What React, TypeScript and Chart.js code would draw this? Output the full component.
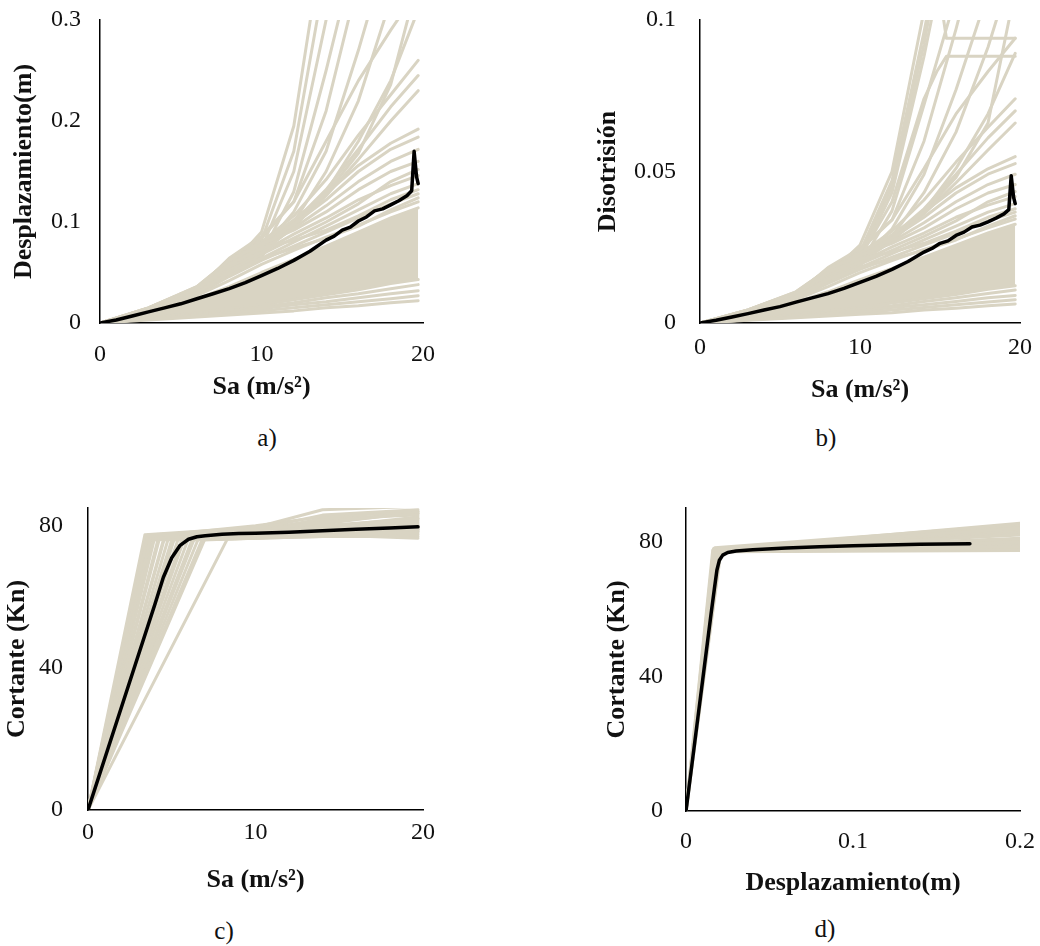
import React, { useEffect, useRef } from "react";
import { Chart, registerables } from "chart.js";

Chart.register(...registerables);

const BEIGE = "#D9D4C3";
const BLACK = "#000000";
const FONT = "'Liberation Serif', 'Times New Roman', serif";
const TICK_SIZE = 24;
const TITLE_SIZE = 26;

// ---------------- a) Desplazamiento(m) vs Sa ----------------
const saGrid = [0, 3, 6, 8, 10, 12, 14, 16, 18, 19.7];

const dispLow1 = [0, 0.003, 0.006, 0.008, 0.010, 0.012, 0.015, 0.017, 0.020, 0.022];
const dispLow2 = [0, 0.004, 0.007, 0.010, 0.012, 0.015, 0.018, 0.021, 0.024, 0.027];
const dispLow3 = [0, 0.004, 0.008, 0.011, 0.014, 0.018, 0.021, 0.025, 0.029, 0.032];
const dispLow4 = [0, 0.005, 0.009, 0.012, 0.016, 0.020, 0.025, 0.029, 0.034, 0.038];
const dispCoreLow = [0, 0.005, 0.010, 0.014, 0.018, 0.023, 0.028, 0.033, 0.039, 0.043];
const dispCoreHigh = [0, 0.011, 0.024, 0.036, 0.050, 0.063, 0.076, 0.090, 0.104, 0.114];
const dispMid1 = [0, 0.012, 0.027, 0.042, 0.058, 0.072, 0.085, 0.097, 0.110, 0.120];
const dispMid2 = [0, 0.013, 0.030, 0.050, 0.064, 0.074, 0.084, 0.096, 0.112, 0.124];
const dispMid3 = [0, 0.014, 0.033, 0.058, 0.074, 0.082, 0.092, 0.106, 0.122, 0.132];
const dispMid4 = [0, 0.013, 0.029, 0.048, 0.064, 0.080, 0.096, 0.112, 0.128, 0.138];
const dispMid5 = [0, 0.014, 0.032, 0.056, 0.070, 0.088, 0.104, 0.122, 0.136, 0.146];
const dispMid6 = [0, 0.013, 0.031, 0.052, 0.068, 0.084, 0.100, 0.118, 0.140, 0.152];
const dispMid7 = [0, 0.015, 0.035, 0.062, 0.078, 0.092, 0.110, 0.132, 0.150, 0.160];
const dispMid8 = [0, 0.014, 0.033, 0.056, 0.072, 0.094, 0.116, 0.140, 0.160, 0.172];
const dispMid9 = [0, 0.014, 0.034, 0.058, 0.076, 0.098, 0.122, 0.150, 0.172, 0.184];
const dispMid10 = [0, 0.015, 0.036, 0.062, 0.080, 0.102, 0.128, 0.156, 0.178, 0.192];
const dispMid11 = [0, 0.012, 0.028, 0.046, 0.062, 0.076, 0.090, 0.104, 0.118, 0.128];
const dispHigh1 = [0, 0.014, 0.033, 0.056, 0.074, 0.096, 0.126, 0.162, 0.200, 0.230];
const dispHigh2 = [0, 0.015, 0.035, 0.060, 0.078, 0.100, 0.132, 0.172, 0.214, 0.245];
const dispHigh3 = [0, 0.015, 0.036, 0.062, 0.080, 0.106, 0.142, 0.186, 0.226, 0.260];
const dispHigh4 = [0, 0.014, 0.034, 0.058, 0.076, 0.098, 0.128, 0.168, 0.236, 0.340];
const dispSteep1 = [0, 0.013, 0.030, 0.055, 0.090, 0.195, 0.400, 0.600, 0.800, 0.950];
const dispSteep2 = [0, 0.014, 0.032, 0.060, 0.082, 0.170, 0.350, 0.550, 0.750, 0.900];
const dispSteep3 = [0, 0.013, 0.030, 0.058, 0.074, 0.150, 0.300, 0.480, 0.650, 0.800];
const dispSteep4 = [0, 0.012, 0.029, 0.052, 0.068, 0.130, 0.250, 0.380, 0.520, 0.650];
const dispSteep5 = [0, 0.014, 0.033, 0.064, 0.086, 0.120, 0.210, 0.340, 0.480, 0.600];
const dispSteep6 = [0, 0.013, 0.031, 0.056, 0.072, 0.110, 0.170, 0.270, 0.380, 0.480];
const dispSteep7 = [0, 0.012, 0.028, 0.050, 0.066, 0.100, 0.150, 0.220, 0.320, 0.420];
const dispSteep8 = [0, 0.013, 0.030, 0.054, 0.070, 0.095, 0.130, 0.180, 0.240, 0.310];
const dispSteep9 = [0, 0.014, 0.033, 0.063, 0.084, 0.120, 0.180, 0.240, 0.290, 0.330];

const dispCurves = [
  dispLow1, dispLow2, dispLow3, dispLow4,
  dispMid1, dispMid2, dispMid3, dispMid4, dispMid5, dispMid6, dispMid7, dispMid8, dispMid9, dispMid10, dispMid11,
  dispHigh1, dispHigh2, dispHigh3, dispHigh4,
  dispSteep1, dispSteep2, dispSteep3, dispSteep4, dispSteep5, dispSteep6, dispSteep7, dispSteep8, dispSteep9,
];

const saMean = [0, 1, 2, 3, 4, 5, 6, 7, 8, 9, 10, 11, 12, 13, 14, 14.5, 15, 15.5, 16, 16.5, 17, 17.5, 18, 18.5, 19, 19.3, 19.45, 19.6, 19.7];
const dispMean = [0, 0.003, 0.007, 0.011, 0.015, 0.019, 0.024, 0.029, 0.034, 0.040, 0.047, 0.054, 0.062, 0.071, 0.082, 0.086, 0.092, 0.095, 0.101, 0.105, 0.111, 0.113, 0.117, 0.121, 0.126, 0.131, 0.170, 0.145, 0.138];

// ---------------- b) Disotrisión vs Sa ----------------
const driftLow1 = [0, 0.0009, 0.0017, 0.0023, 0.0029, 0.0034, 0.0043, 0.0049, 0.0057, 0.0063];
const driftLow2 = [0, 0.0011, 0.0020, 0.0029, 0.0034, 0.0043, 0.0051, 0.0060, 0.0069, 0.0077];
const driftLow3 = [0, 0.0011, 0.0023, 0.0031, 0.0040, 0.0051, 0.0060, 0.0071, 0.0083, 0.0091];
const driftLow4 = [0, 0.0014, 0.0026, 0.0034, 0.0046, 0.0057, 0.0071, 0.0083, 0.0097, 0.0109];
const driftCoreLow = [0, 0.0014, 0.0029, 0.0040, 0.0051, 0.0066, 0.0080, 0.0094, 0.0111, 0.0123];
const driftCoreHigh = [0, 0.0031, 0.0069, 0.0103, 0.0143, 0.0180, 0.0217, 0.0257, 0.0297, 0.0326];
const driftMid1 = [0, 0.0034, 0.0077, 0.0120, 0.0166, 0.0206, 0.0243, 0.0277, 0.0314, 0.0343];
const driftMid2 = [0, 0.0037, 0.0086, 0.0143, 0.0183, 0.0211, 0.0240, 0.0274, 0.0320, 0.0354];
const driftMid3 = [0, 0.0040, 0.0094, 0.0166, 0.0211, 0.0234, 0.0263, 0.0303, 0.0349, 0.0377];
const driftMid4 = [0, 0.0037, 0.0083, 0.0137, 0.0183, 0.0229, 0.0274, 0.0320, 0.0366, 0.0394];
const driftMid5 = [0, 0.0040, 0.0091, 0.0160, 0.0200, 0.0251, 0.0297, 0.0349, 0.0389, 0.0417];
const driftMid6 = [0, 0.0037, 0.0089, 0.0149, 0.0194, 0.0240, 0.0286, 0.0337, 0.0400, 0.0434];
const driftMid7 = [0, 0.0043, 0.0100, 0.0177, 0.0223, 0.0263, 0.0314, 0.0377, 0.0429, 0.0457];
const driftMid8 = [0, 0.0040, 0.0094, 0.0160, 0.0206, 0.0269, 0.0331, 0.0400, 0.0457, 0.0491];
const driftMid9 = [0, 0.0040, 0.0097, 0.0166, 0.0217, 0.0280, 0.0349, 0.0429, 0.0491, 0.0526];
const driftMid10 = [0, 0.0043, 0.0103, 0.0177, 0.0229, 0.0291, 0.0366, 0.0446, 0.0509, 0.0549];
const driftMid11 = [0, 0.0034, 0.0080, 0.0131, 0.0177, 0.0217, 0.0257, 0.0297, 0.0337, 0.0366];
const driftHigh1 = [0, 0.0040, 0.0094, 0.0160, 0.0211, 0.0274, 0.0360, 0.0463, 0.0571, 0.0660];
const driftHigh2 = [0, 0.0043, 0.0100, 0.0171, 0.0223, 0.0286, 0.0377, 0.0491, 0.0611, 0.0700];
const driftHigh3 = [0, 0.0043, 0.0103, 0.0177, 0.0229, 0.0303, 0.0406, 0.0531, 0.0646, 0.0740];
const driftHigh4 = [0, 0.0040, 0.0097, 0.0166, 0.0217, 0.0280, 0.0366, 0.0480, 0.0660, 0.1100];
const driftSteep1 = [0, 0.0037, 0.0086, 0.0157, 0.0257, 0.0500, 0.1030, 0.1600, 0.2200, 0.2600];
const driftSteep2 = [0, 0.0040, 0.0091, 0.0171, 0.0234, 0.0470, 0.0960, 0.1500, 0.2100, 0.2500];
const driftSteep3 = [0, 0.0037, 0.0086, 0.0166, 0.0211, 0.0430, 0.0880, 0.1400, 0.1900, 0.2300];
const driftSteep4 = [0, 0.0034, 0.0083, 0.0149, 0.0194, 0.0370, 0.0720, 0.1080, 0.1500, 0.1900];
const driftSteep5 = [0, 0.0040, 0.0094, 0.0183, 0.0246, 0.0340, 0.0600, 0.0970, 0.1370, 0.1700];
const driftSteep6 = [0, 0.0037, 0.0089, 0.0160, 0.0206, 0.0310, 0.0490, 0.0770, 0.1090, 0.1370];
const driftSteep7 = [0, 0.0034, 0.0080, 0.0143, 0.0189, 0.0286, 0.0430, 0.0630, 0.0910, 0.1200];
const driftSteep8 = [0, 0.0037, 0.0086, 0.0154, 0.0200, 0.0271, 0.0370, 0.0510, 0.0690, 0.0890];
const driftSteep9 = [0, 0.0040, 0.0094, 0.0180, 0.0240, 0.0340, 0.0510, 0.0690, 0.0830, 0.0940];

const driftCurves = [
  driftLow1, driftLow2, driftLow3, driftLow4,
  driftMid1, driftMid2, driftMid3, driftMid4, driftMid5, driftMid6, driftMid7, driftMid8, driftMid9, driftMid10, driftMid11,
  driftHigh1, driftHigh2, driftHigh3, driftHigh4,
  driftSteep1, driftSteep2, driftSteep3, driftSteep4, driftSteep5, driftSteep6, driftSteep7, driftSteep8, driftSteep9,
];

const saCapGrid = [0, 3, 6, 8, 10, 12, 14, 14.8, 15.4, 19.7];
const driftCap1 = [0, 0.0040, 0.0091, 0.0166, 0.0226, 0.0450, 0.0920, 0.1150, 0.0940, 0.0940];
const driftCap2 = [0, 0.0037, 0.0086, 0.0160, 0.0217, 0.0400, 0.0740, 0.0830, 0.0880, 0.0880];
const driftCapCurves = [driftCap1, driftCap2];

const driftMean = [0, 0.0009, 0.0020, 0.0031, 0.0043, 0.0054, 0.0069, 0.0083, 0.0097, 0.0114, 0.0134, 0.0154, 0.0177, 0.0203, 0.0234, 0.0246, 0.0263, 0.0271, 0.0289, 0.0300, 0.0317, 0.0323, 0.0334, 0.0346, 0.0360, 0.0374, 0.0486, 0.0415, 0.0394];

// ---------------- c) Cortante (Kn) vs Sa ----------------
const shearYieldSa = [3.4, 3.5, 3.55, 3.6, 3.7, 3.8, 3.9, 4.0, 4.2, 4.3, 4.5, 4.6, 4.8, 5.0, 5.2, 5.4, 5.6, 5.8, 6.0, 6.2, 6.4, 6.6, 6.8, 7.0, 8.4];
const shearYieldV = [77.5, 77.0, 77.0, 77.5, 76.5, 77.0, 76.0, 77.0, 76.5, 77.0, 76.0, 77.0, 76.5, 76.0, 77.0, 76.5, 76.0, 77.0, 76.5, 76.0, 77.0, 76.5, 76.0, 76.5, 77.0];
const shearAt10 = [79.5, 79.0, 80.0, 78.5, 78.0, 78.5, 77.5, 78.0, 77.5, 78.0, 77.0, 79.0, 77.5, 76.5, 78.0, 77.0, 77.0, 78.0, 77.0, 76.5, 77.5, 77.0, 76.5, 77.0, 77.5];
const shearAt14 = [84.5, 83.0, 82.5, 81.0, 80.0, 82.0, 79.0, 80.5, 78.5, 79.5, 78.0, 81.5, 78.5, 77.5, 80.0, 78.0, 77.5, 79.0, 78.0, 77.0, 78.5, 77.5, 77.0, 77.5, 78.0];
const shearAtEnd = [85.5, 84.5, 84.0, 83.5, 82.0, 83.0, 81.0, 84.0, 80.0, 82.5, 79.0, 83.5, 80.5, 78.0, 81.5, 79.5, 78.5, 80.0, 79.0, 77.5, 82.0, 78.5, 77.0, 76.5, 79.0];
const shearPlateauSa = [10, 14, 19.7];

const saMeanShear = [0, 1, 2, 3, 4, 4.5, 5, 5.5, 6, 6.5, 7, 8, 9, 10, 12, 14, 16, 18, 19.7];
const shearMean = [0, 14.5, 29, 43.5, 58, 65.5, 71, 74.5, 76.2, 76.9, 77.2, 77.6, 77.8, 77.9, 78.2, 78.6, 79.0, 79.4, 79.7];

// ---------------- d) Cortante (Kn) vs Desplazamiento(m) ----------------
const pushYieldDisp = [0.0160, 0.0165, 0.0170, 0.0172, 0.0175, 0.0178, 0.0180, 0.0183, 0.0185, 0.0188, 0.0190, 0.0193, 0.0195, 0.0200, 0.0205, 0.0210];
const pushYieldV = [77.5, 78.0, 77.0, 78.2, 77.5, 77.8, 77.0, 78.0, 77.5, 77.2, 77.8, 77.0, 77.5, 77.2, 77.0, 77.4];
const pushEndV = [85.5, 84.0, 80.0, 85.0, 82.0, 83.5, 78.5, 84.5, 81.0, 79.5, 83.0, 77.8, 80.5, 79.0, 77.4, 82.5];
const pushEndDisp = 0.2;

const dispMeanPush = [0, 0.005, 0.010, 0.015, 0.017, 0.0185, 0.020, 0.022, 0.025, 0.030, 0.040, 0.060, 0.080, 0.100, 0.120, 0.140, 0.170];
const shearMeanPush = [0, 19.5, 39, 58.5, 66, 71.5, 74.5, 76, 76.8, 77.2, 77.6, 78.1, 78.5, 78.8, 79.0, 79.2, 79.4];

// ---------------- ticks ----------------
const saTicks = [0, 10, 20];
const saTickLabels = ["0", "10", "20"];
const dispTicks = [0, 0.1, 0.2, 0.3];
const dispTickLabels = ["0", "0.1", "0.2", "0.3"];
const driftTicks = [0, 0.05, 0.1];
const driftTickLabels = ["0", "0.05", "0.1"];
const shearTicks = [0, 40, 80];
const shearTickLabels = ["0", "40", "80"];
const pushDispTicks = [0, 0.1, 0.2];
const pushDispTickLabels = ["0", "0.1", "0.2"];

// ---------------- helpers ----------------
type Pt = { x: number; y: number };
const xy = (xs: number[], ys: number[]): Pt[] => xs.map((x, i) => ({ x, y: ys[i] }));

const beigeLine = (data: Pt[]) => ({
  data, borderColor: BEIGE, backgroundColor: BEIGE, borderWidth: 3, pointRadius: 0, fill: false, order: 2,
});
const bandPair = (xs: number[], lo: number[], hi: number[]) => [
  { data: xy(xs, lo), borderColor: BEIGE, backgroundColor: BEIGE, borderWidth: 3, pointRadius: 0, fill: false, order: 3 },
  { data: xy(xs, hi), borderColor: BEIGE, backgroundColor: BEIGE, borderWidth: 3, pointRadius: 0, fill: "-1", order: 3 },
];
const meanLine = (data: Pt[]) => ({
  data, borderColor: BLACK, backgroundColor: BLACK, borderWidth: 3.5, pointRadius: 0, fill: false, order: 0,
});

type Geo = {
  left: number; top: number; width: number; height: number;
  areaL: number; areaR: number; areaT: number; areaB: number;
  yTitleX: number; xTitleY: number; xTickY: number; yTickPad: number;
};
type AxisDef = { min: number; max: number; ticks: number[]; labels: string[]; title: string };

const zeroPad = (s: any) => {
  s.paddingTop = 0;
  s.paddingBottom = 0;
  s.paddingLeft = 0;
  s.paddingRight = 0;
};

function Panel({ geo, x, y, build }: { geo: Geo; x: AxisDef; y: AxisDef; build: () => any[] }) {
  const ref = useRef<HTMLCanvasElement>(null);
  useEffect(() => {
    const tickLH = TICK_SIZE * 1.2;
    const titleLH = TITLE_SIZE * 1.2;
    const tickFont = { family: FONT, size: TICK_SIZE };
    const titleFont = { family: FONT, size: TITLE_SIZE, weight: "bold" as const };
    const chart = new Chart(ref.current as HTMLCanvasElement, {
      type: "line",
      data: { datasets: build() },
      options: {
        animation: false,
        responsive: false,
        events: [],
        layout: {
          padding: { left: 0, top: geo.areaT - geo.top, right: geo.left + geo.width - geo.areaR, bottom: 0 },
        },
        plugins: { legend: { display: false }, tooltip: { enabled: false } },
        elements: { line: { tension: 0, borderJoinStyle: "round", borderCapStyle: "round" }, point: { radius: 0 } },
        scales: {
          x: {
            type: "linear",
            min: x.min,
            max: x.max,
            grid: { display: false, drawTicks: false },
            border: { display: true, color: "#000", width: 1.5 },
            ticks: {
              font: tickFont, color: "#111", padding: geo.xTickY - geo.areaB - tickLH / 2,
              maxRotation: 0, minRotation: 0, autoSkip: false,
              callback: (_v: any, i: number) => x.labels[i],
            },
            title: {
              display: true, text: x.title, font: titleFont, color: "#111",
              padding: { top: 0, bottom: geo.top + geo.height - geo.xTitleY - titleLH / 2 },
            },
            afterBuildTicks: (s: any) => { s.ticks = x.ticks.map((v) => ({ value: v })); },
            afterFit: (s: any) => { s.height = geo.top + geo.height - geo.areaB; zeroPad(s); },
          },
          y: {
            type: "linear",
            min: y.min,
            max: y.max,
            grid: { display: false, drawTicks: false },
            border: { display: true, color: "#000", width: 1.5 },
            ticks: {
              font: tickFont, color: "#111", padding: geo.yTickPad, autoSkip: false,
              callback: (_v: any, i: number) => y.labels[i],
            },
            title: {
              display: true, text: y.title, font: titleFont, color: "#111",
              padding: { top: geo.yTitleX - geo.left - titleLH / 2, bottom: 0 },
            },
            afterBuildTicks: (s: any) => { s.ticks = y.ticks.map((v) => ({ value: v })); },
            afterFit: (s: any) => { s.width = geo.areaL - geo.left; zeroPad(s); },
          },
        },
      } as any,
    });
    return () => chart.destroy();
  }, []);
  return (
    <canvas
      ref={ref}
      width={geo.width}
      height={geo.height}
      style={{ position: "absolute", left: geo.left, top: geo.top, width: geo.width, height: geo.height }}
    />
  );
}

function Label({ x, y, text }: { x: number; y: number; text: string }) {
  return (
    <div
      style={{
        position: "absolute", left: x, top: y, transform: "translate(-50%, -50%)",
        fontFamily: FONT, fontSize: 25, color: "#111", whiteSpace: "nowrap", lineHeight: 1,
      }}
    >
      {text}
    </div>
  );
}

const geoA: Geo = { left: 0, top: 0, width: 450, height: 410, areaL: 100, areaR: 423, areaT: 20, areaB: 323, yTitleX: 24, xTitleY: 387, xTickY: 355, yTickPad: 19 };
const geoB: Geo = { left: 520, top: 0, width: 520, height: 410, areaL: 700, areaR: 1020, areaT: 20, areaB: 323, yTitleX: 608, xTitleY: 390, xTickY: 348, yTickPad: 24 };
const geoC: Geo = { left: 0, top: 470, width: 450, height: 440, areaL: 88, areaR: 423, areaT: 508, areaB: 810, yTitleX: 17, xTitleY: 880, xTickY: 833, yTickPad: 25 };
const geoD: Geo = { left: 520, top: 470, width: 520, height: 440, areaL: 686, areaR: 1020, areaT: 508, areaB: 811, yTitleX: 617, xTitleY: 883, xTickY: 842, yTickPad: 23 };

const SA_TITLE = "Sa (m/s\u00B2)";

export default function App() {
  const buildA = () => [
    meanLine(xy(saMean, dispMean)),
    ...bandPair(saGrid, dispCoreLow, dispCoreHigh),
    ...dispCurves.map((c) => beigeLine(xy(saGrid, c))),
  ];
  const buildB = () => [
    meanLine(xy(saMean, driftMean)),
    ...bandPair(saGrid, driftCoreLow, driftCoreHigh),
    ...driftCurves.map((c) => beigeLine(xy(saGrid, c))),
    ...driftCapCurves.map((c) => beigeLine(xy(saCapGrid, c))),
  ];
  const buildC = () => [
    meanLine(xy(saMeanShear, shearMean)),
    ...shearYieldSa.map((s, i) =>
      beigeLine([
        { x: 0, y: 0 },
        { x: s, y: shearYieldV[i] },
        { x: shearPlateauSa[0], y: shearAt10[i] },
        { x: shearPlateauSa[1], y: shearAt14[i] },
        { x: shearPlateauSa[2], y: shearAtEnd[i] },
      ])
    ),
  ];
  const buildD = () => [
    meanLine(xy(dispMeanPush, shearMeanPush)),
    ...pushYieldDisp.map((d, i) =>
      beigeLine([
        { x: 0, y: 0 },
        { x: d, y: pushYieldV[i] },
        { x: pushEndDisp, y: pushEndV[i] },
      ])
    ),
  ];

  return (
    <div style={{ position: "absolute", left: 0, top: 0, width: 1040, height: 946, background: "#fff", overflow: "hidden" }}>
      <Panel
        geo={geoA}
        x={{ min: 0, max: 20, ticks: saTicks, labels: saTickLabels, title: SA_TITLE }}
        y={{ min: 0, max: 0.3, ticks: dispTicks, labels: dispTickLabels, title: "Desplazamiento(m)" }}
        build={buildA}
      />
      <Panel
        geo={geoB}
        x={{ min: 0, max: 20, ticks: saTicks, labels: saTickLabels, title: SA_TITLE }}
        y={{ min: 0, max: 0.1, ticks: driftTicks, labels: driftTickLabels, title: "Disotrisión" }}
        build={buildB}
      />
      <Panel
        geo={geoC}
        x={{ min: 0, max: 20, ticks: saTicks, labels: saTickLabels, title: SA_TITLE }}
        y={{ min: 0, max: 85, ticks: shearTicks, labels: shearTickLabels, title: "Cortante (Kn)" }}
        build={buildC}
      />
      <Panel
        geo={geoD}
        x={{ min: 0, max: 0.2, ticks: pushDispTicks, labels: pushDispTickLabels, title: "Desplazamiento(m)" }}
        y={{ min: 0, max: 90, ticks: shearTicks, labels: shearTickLabels, title: "Cortante (Kn)" }}
        build={buildD}
      />
      <Label x={267} y={437} text="a)" />
      <Label x={826} y={437} text="b)" />
      <Label x={224} y={930} text="c)" />
      <Label x={825} y={928} text="d)" />
    </div>
  );
}
